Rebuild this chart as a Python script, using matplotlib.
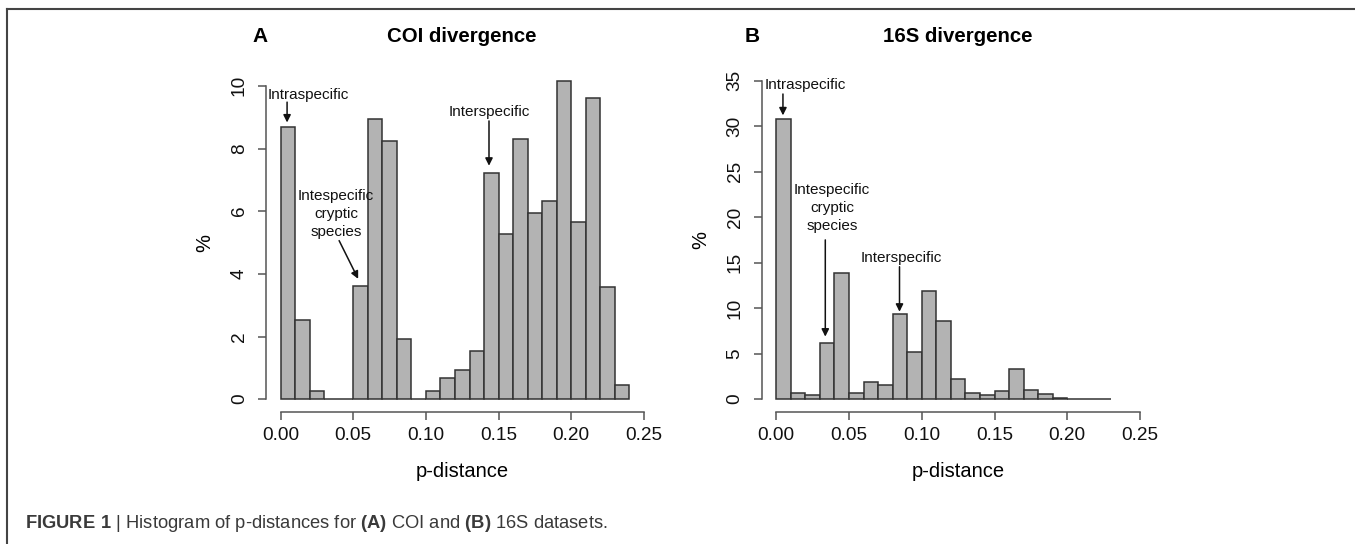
import numpy as np
import matplotlib.pyplot as plt
from matplotlib.lines import Line2D

plt.rcParams['font.family'] = ['Liberation Sans', 'DejaVu Sans']
plt.rcParams['mathtext.fontset'] = 'custom'
plt.rcParams['mathtext.rm'] = 'Liberation Sans'
plt.rcParams['mathtext.bf'] = 'Liberation Sans:bold'

# histogram bins (width 0.01) and bar heights in %
coi_left = np.arange(0, 0.24, 0.01)
coi_pct = [8.70, 2.54, 0.26, 0, 0, 3.62, 8.93, 8.23, 1.91, 0,
           0.26, 0.66, 0.93, 1.53, 7.23, 5.26, 8.30, 5.95, 6.33, 10.15,
           5.67, 9.62, 3.59, 0.44]

s16_left = np.arange(0, 0.23, 0.01)
s16_pct = [30.77, 0.70, 0.40, 6.12, 13.82, 0.70, 1.83, 1.58, 9.39, 5.17,
           11.88, 8.54, 2.16, 0.62, 0.40, 0.84, 3.30, 0.99, 0.55, 0.10,
           0.03, 0.02, 0.02]

x_ticks = [0.00, 0.05, 0.10, 0.15, 0.20, 0.25]
coi_yticks = [0, 2, 4, 6, 8, 10]
s16_yticks = [0, 5, 10, 15, 20, 25, 30, 35]

W, H = 1355, 544
fig = plt.figure(figsize=(W / 100, H / 100), dpi=100)

axis_col = '#555555'


def histo(ax, left, pct, yticks, ylim):
    ax.bar(left, pct, width=0.01, align='edge', color='#b3b3b3',
           edgecolor='#333333', linewidth=1.1)
    ax.set_xlim(-0.01, 0.26)
    ax.set_ylim(*ylim)
    for s in ['top', 'right']:
        ax.spines[s].set_visible(False)
    ax.spines['left'].set_bounds(yticks[0], yticks[-1])
    ax.spines['bottom'].set_bounds(x_ticks[0], x_ticks[-1])
    for s in ['left', 'bottom']:
        ax.spines[s].set_color(axis_col)
        ax.spines[s].set_linewidth(1.1)
    ax.set_xticks(x_ticks)
    ax.set_xticklabels(['%.2f' % t for t in x_ticks])
    ax.set_yticks(yticks)
    ax.tick_params(axis='both', length=6, width=1.1, color=axis_col,
                   labelsize=13.7, labelcolor='#111111')
    ax.tick_params(axis='x', pad=5)
    ax.tick_params(axis='y', labelrotation=90, pad=7)
    for lab in ax.get_yticklabels():
        lab.set_va('center')
    ax.set_xlabel('p-distance', fontsize=14.5, labelpad=13)
    ax.set_ylabel('%', fontsize=14.5, labelpad=12)


def note(ax, txt, xy, start, tip):
    ax.text(xy[0], xy[1], txt, ha='center', va='center', fontsize=11,
            linespacing=1.35, color='#111111')
    ax.annotate('', xy=tip, xytext=start,
                arrowprops=dict(arrowstyle='-|>', color='#111111', lw=1.1,
                                mutation_scale=11, shrinkA=0, shrinkB=0))


# panel A
axA = fig.add_axes([266 / W, (H - 411.7) / H, 392.5 / W, (411.7 - 73.3) / H])
histo(axA, coi_left, coi_pct, coi_yticks, (-0.4, 10.4))
note(axA, 'Intraspecific', (0.019, 9.71), (0.0045, 9.48), (0.0045, 8.83))
note(axA, 'Interspecific', (0.1434, 9.18), (0.1434, 8.88), (0.1434, 7.45))
note(axA, 'Intespecific\ncryptic\nspecies', (0.0381, 5.91), (0.0403, 5.06), (0.0534, 3.84))

# panel B
axB = fig.add_axes([761.7 / W, (H - 411.7) / H, 392.9 / W, 343.6 / H])
histo(axB, s16_left, s16_pct, s16_yticks, (-1.4, 36.4))
note(axB, 'Intraspecific', (0.0199, 34.5), (0.0046, 33.55), (0.0046, 31.2))
note(axB, 'Intespecific\ncryptic\nspecies', (0.0383, 21.0), (0.0337, 17.5), (0.0337, 6.86))
note(axB, 'Interspecific', (0.0857, 15.48), (0.0847, 14.55), (0.0847, 9.6))

# panel letters and titles
for x, t in [(260, 'A'), (752.5, 'B')]:
    fig.text(x / W, 1 - 37 / H, t, ha='center', va='center',
             fontsize=15, fontweight='bold')
for x, t in [(462, 'COI divergence'), (958, '16S divergence')]:
    fig.text(x / W, 1 - 36 / H, t, ha='center', va='center',
             fontsize=14.7, fontweight='bold')

# caption
fig.text(25 / W, 1 - 523 / H,
         r'$\bf{FIGURE\ 1}$ | Histogram of p-distances for $\bf{(A)}$ COI and $\bf{(B)}$ 16S datasets.',
         ha='left', va='center', fontsize=13.2, color='#3a3a3a')

# partial frame around figure
fig.add_artist(Line2D([7.5 / W, 1], [1 - 8.5 / H, 1 - 8.5 / H],
                      transform=fig.transFigure, color='#444444', lw=1.5))
fig.add_artist(Line2D([7.5 / W, 7.5 / W], [0, 1 - 8.5 / H],
                      transform=fig.transFigure, color='#444444', lw=1.5))

fig.savefig('out.png', dpi=100)
